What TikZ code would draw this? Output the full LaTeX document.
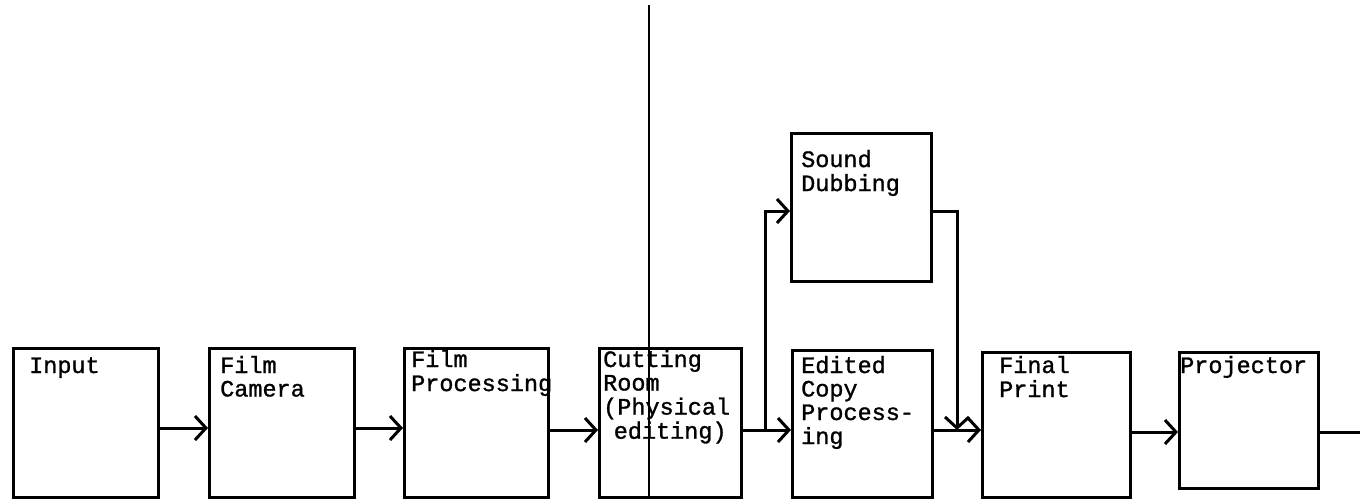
\documentclass[tikz,border=0pt]{standalone}
\usepackage{fontspec}
\newfontfamily\typew[FakeBold=1.2]{Liberation Mono}
\usetikzlibrary{arrows.meta}
\newcommand{\lines}[1]{{\def\arraystretch{1}\begin{tabular}[t]{@{}l@{}}#1\end{tabular}}}
\tikzset{
  box/.style={draw, line width=3.4pt, minimum width=#1, anchor=north west, inner sep=0pt},
  lbl/.style={anchor=base west, inner sep=0pt, font=\typew\fontsize{23.5}{23.5}\selectfont},
  arr/.style={line width=3pt, -{Straight Barb[length=11pt, width=24pt, line width=3pt]}},
  ln/.style={line width=3pt},
}
\begin{document}
\begin{tikzpicture}[x=1pt,y=-1pt]
\useasboundingbox (0,0) rectangle (1360,499);
% boxes
\node[box=145pt, minimum height=149pt] (input) at (12,347) {};
\node[box=145pt, minimum height=149pt] (cam)   at (208,347) {};
\node[box=144pt, minimum height=149pt] (proc)  at (403,347) {};
\node[box=142pt, minimum height=149pt] (cut)   at (598,347) {};
\node[box=140pt, minimum height=148pt] (sd)    at (790,132) {};
\node[box=140pt, minimum height=147pt] (edit)  at (791,349) {};
\node[box=148pt, minimum height=145pt] (final) at (981,351) {};
\node[box=139pt, minimum height=136pt] (proj)  at (1178,351) {};
% labels
\node[lbl] (tinput) at (29,373) {Input};
\node[lbl] (tcam)   at (220,373) {\lines{Film\\Camera}};
\begin{scope}
\clip (proc.north west) rectangle (proc.south east);
\node[lbl] (tproc)  at (411,367) {\lines{Film\\Processing}};
\end{scope}
\node[lbl] (tcut)   at (603,367) {\lines{Cutting\\Room\\(Physical\\\hspace*{0.45em}editing)}};
\node[lbl] (tsd)    at (801,167) {\lines{Sound\\Dubbing}};
\node[lbl] (tedit)  at (801,373) {\lines{Edited\\Copy\\Process-\\ing}};
\node[lbl] (tfinal) at (999,373) {\lines{Final\\Print}};
\node[lbl] (tproj)  at (1180,373) {Projector};
% levels
\coordinate (yA) at (0,428);
\coordinate (yB) at (0,430);
\coordinate (yC) at (0,432);
\coordinate (yS) at (0,211);
\coordinate (j1) at (765,430);
\coordinate (j1u) at (765,211);
\coordinate (j2u) at (957,211);
\coordinate (j2) at (957,430);
\coordinate (outE) at (1360,432);
% connectors
\draw[arr] (input.east |- yA) -- (cam.west |- yA);
\draw[arr] (cam.east |- yA) -- (proc.west |- yA);
\draw[arr] (proc.east |- yB) -- (cut.west |- yB);
\draw[arr] (cut.east |- yB) -- (edit.west |- yB);
\draw[arr] (j1) -- (j1u) -- (sd.west |- yS);
\draw[arr] (sd.east |- yS) -- (j2u) -- (j2);
\draw[arr] (edit.east |- yB) -- (final.west |- yB);
\draw[arr] (final.east |- yC) -- (proj.west |- yC);
\draw[ln] (proj.east |- yC) -- (outE);
% vertical scan line
\draw[line width=1.2pt] (649,5) -- (649,499);
\end{tikzpicture}
\end{document}
